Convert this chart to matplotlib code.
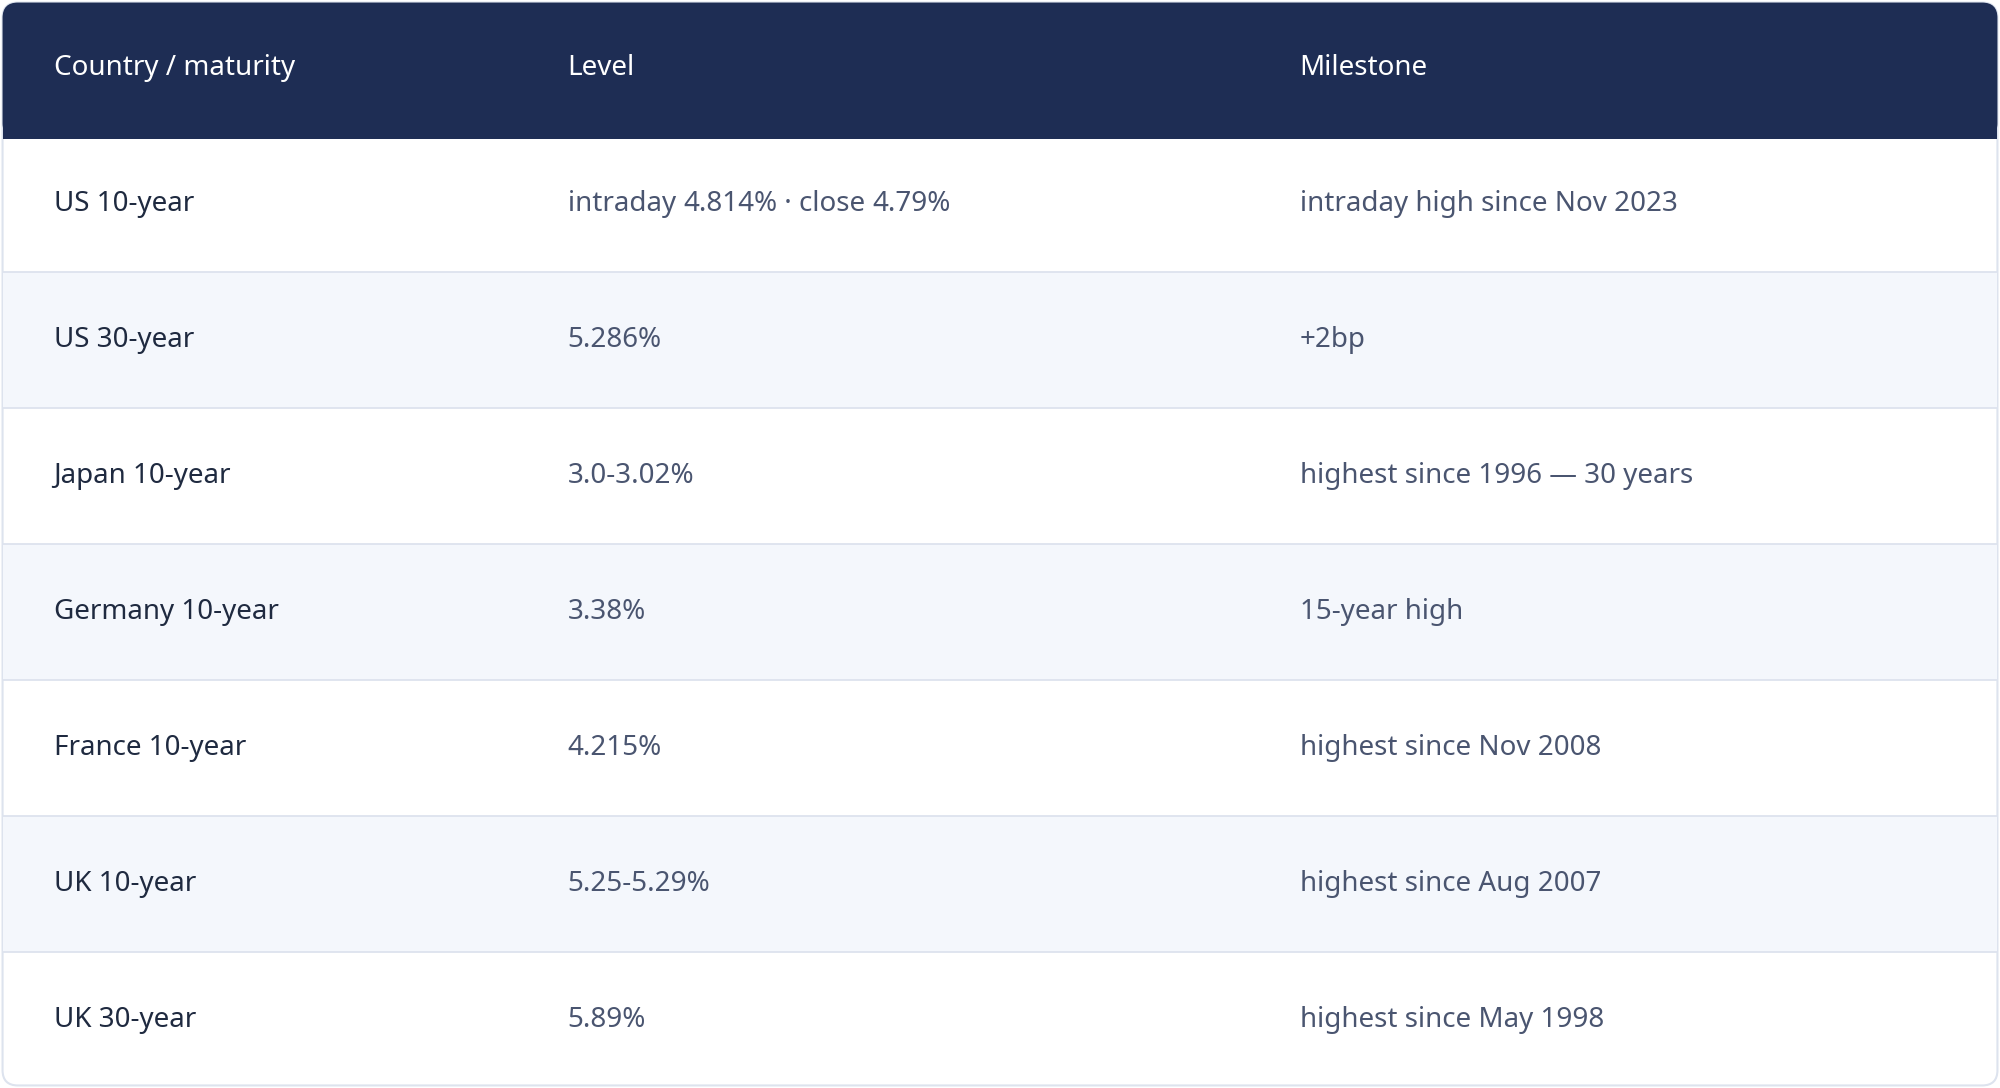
import matplotlib
matplotlib.use("Agg")
import matplotlib.pyplot as plt
from matplotlib.patches import FancyBboxPatch, Rectangle

headers = ["Country / maturity", "Level", "Milestone"]
countries = ["US 10-year", "US 30-year", "Japan 10-year", "Germany 10-year",
             "France 10-year", "UK 10-year", "UK 30-year"]
# each cell: list of (text, bold)
levels = [[("intraday ", False), ("4.814%", True), (" · close ", False), ("4.79%", True)],
          [("5.286%", True)], [("3.0-3.02%", True)], [("3.38%", True)],
          [("4.215%", True)], [("5.25-5.29%", False)], [("5.89%", True)]]
milestones = [[("intraday high since Nov 2023", False)], [("+2bp", False)],
              [("highest since 1996 — 30 years", True)], [("15-year high", False)],
              [("highest since Nov 2008", False)], [("highest since Aug 2007", False)],
              [("highest since May 1998", False)]]

plt.rcParams['font.family'] = ['Noto Sans', 'DejaVu Sans']
W, H = 1568, 853
fig = plt.figure(figsize=(20, 10.88), dpi=100)
ax = fig.add_axes([0, 0, 1, 1])
ax.set_xlim(0, W); ax.set_ylim(H, 0); ax.axis('off')

n = len(countries) + 1
rh = H / n
colx = [42, 445, 1019]
FS = 20
dark = "#1f2a40"; mid = "#4a5570"

# outer border
ax.add_patch(FancyBboxPatch((2, 2), W - 4, H - 4, boxstyle="round,pad=0,rounding_size=12",
                            fc="white", ec="#dde3ee", lw=1.5, zorder=0))
ax.add_patch(FancyBboxPatch((2, 2), W - 4, rh, boxstyle="round,pad=0,rounding_size=12",
                            fc="#1e2d54", ec="none", zorder=1))
ax.add_patch(Rectangle((2, rh / 2), W - 4, rh / 2 + 2, fc="#1e2d54", ec="none", zorder=1))
for j, h in enumerate(headers):
    ax.text(colx[j], rh / 2, h, color="white", fontsize=FS, fontweight="bold",
            va="center", ha="left", zorder=3)

fig.canvas.draw()
r = fig.canvas.get_renderer()
inv = ax.transData.inverted()

def draw_pieces(x, y, pieces, color):
    for t, b in pieces:
        txt = ax.text(x, y, t, color=color, fontsize=FS, fontweight="bold" if b else "normal",
                      va="center", ha="left", zorder=3)
        bb = txt.get_window_extent(r)
        x = inv.transform((bb.x1, bb.y0))[0]

for i in range(len(countries)):
    y0 = rh * (i + 1)
    if i % 2 == 1:
        ax.add_patch(Rectangle((2, y0), W - 4, rh, fc="#f4f7fc", ec="none", zorder=1))
    if i > 0:
        ax.plot([2, W - 2], [y0, y0], color="#dde3ee", lw=1.3, zorder=2)
    yc = y0 + rh / 2
    ax.text(colx[0], yc, countries[i], color=dark, fontsize=FS, fontweight="bold",
            va="center", ha="left", zorder=3)
    draw_pieces(colx[1], yc, levels[i], mid)
    draw_pieces(colx[2], yc, milestones[i], mid)

fig.savefig("out.png", dpi=100)
